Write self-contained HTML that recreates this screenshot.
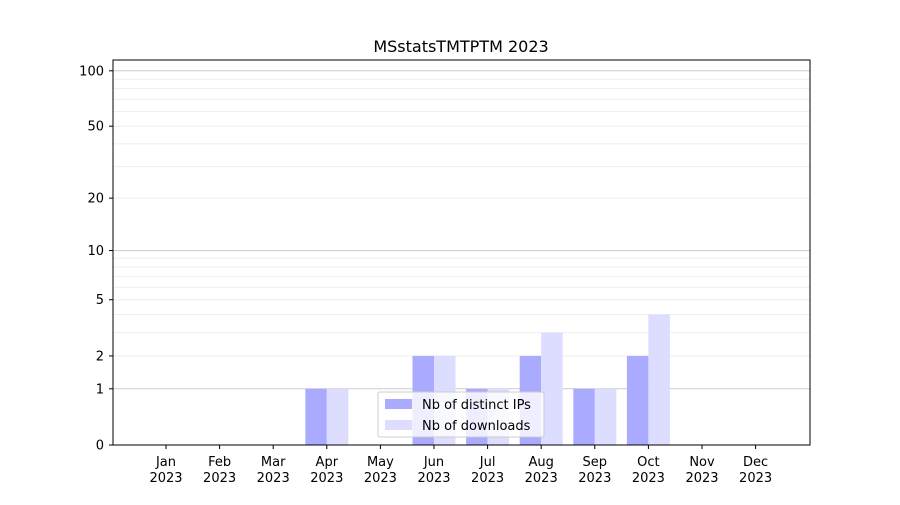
<!DOCTYPE html>
<html><head><meta charset="utf-8"><style>
body{margin:0;background:#fff;}
svg text{font-family:"DejaVu Sans","Liberation Sans",sans-serif;fill:#000;}
</style></head><body>
<svg width="900" height="500" viewBox="0 0 900 500" xmlns="http://www.w3.org/2000/svg">
<rect width="900" height="500" fill="#fff"/>
<g id="grid"></g>
<g id="bars"></g>
<rect x="113" y="60" width="697" height="385" fill="none" stroke="#000" stroke-width="1"/>
<g id="ticks" font-size="13"></g>
<text x="461" y="52" font-size="16" text-anchor="middle">MSstatsTMTPTM 2023</text>
<g>
<rect x="378" y="392" width="166" height="45" fill="#fff" fill-opacity="0.8" stroke="#ccc" rx="2"/>
<rect x="385" y="399" width="27" height="10" fill="#aaaaff"/>
<text x="422" y="409" font-size="13">Nb of distinct IPs</text>
<rect x="385" y="420" width="27" height="10" fill="#ddddff"/>
<text x="422" y="430" font-size="13">Nb of downloads</text>
</g>
<script>
var ns="http://www.w3.org/2000/svg";
function Y(v){return 445-186.7*Math.log10(1+v);}
function el(t,a,p){var e=document.createElementNS(ns,t);for(var k in a)e.setAttribute(k,a[k]);document.getElementById(p).appendChild(e);return e;}
var minors=[2,3,4,5,6,7,8,9,20,30,40,50,60,70,80,90];
minors.forEach(function(v){el("line",{x1:113,x2:810,y1:Y(v),y2:Y(v),stroke:"#eeeeee","stroke-width":1},"grid");});
[1,10,100].forEach(function(v){el("line",{x1:113,x2:810,y1:Y(v),y2:Y(v),stroke:"#cccccc","stroke-width":1},"grid");});
var ips=[0,0,0,1,0,2,1,2,1,2,0,0],dl=[0,0,0,1,0,2,1,3,1,4,0,0];
var months=["Jan","Feb","Mar","Apr","May","Jun","Jul","Aug","Sep","Oct","Nov","Dec"];
for(var i=0;i<12;i++){
 var c=166+i*53.6;
 if(ips[i]>0)el("rect",{x:c-21.5,y:Y(ips[i]),width:21.5,height:445-Y(ips[i]),fill:"#aaaaff"},"bars");
 if(dl[i]>0)el("rect",{x:c,y:Y(dl[i]),width:21.5,height:445-Y(dl[i]),fill:"#ddddff"},"bars");
 el("line",{x1:c,x2:c,y1:445,y2:449,stroke:"#000"},"ticks");
 var t=el("text",{x:c,y:466,"text-anchor":"middle"},"ticks");t.textContent=months[i];
 t=el("text",{x:c,y:482,"text-anchor":"middle"},"ticks");t.textContent="2023";
}
[0,1,2,5,10,20,50,100].forEach(function(v){
 var y=Y(v);el("line",{x1:109,x2:113,y1:y,y2:y,stroke:"#000"},"ticks");
 var t=el("text",{x:104,y:y+4.5,"text-anchor":"end"},"ticks");t.textContent=v;
});
</script>
</svg>
</body></html>
